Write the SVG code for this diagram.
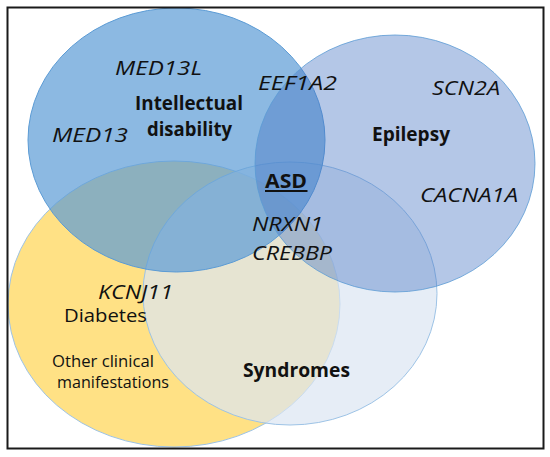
<svg xmlns="http://www.w3.org/2000/svg" width="550" height="457" viewBox="0 0 550 457">
<style>
.lbl{font-family:"Open Sans","Liberation Sans",sans-serif;fill:#111;}
.b{font-weight:bold;font-size:19px;}
.g{font-style:italic;font-size:20px;}
.r{font-size:19px;}
.s{font-size:15.5px;}
</style>
<rect x="0" y="0" width="550" height="457" fill="#ffffff"/>
<g id="other-clinical">
<ellipse cx="174" cy="304" rx="166" ry="143" fill="#ffd966" fill-opacity="0.8" stroke="#9dc3e6" stroke-width="1"/>
</g>
<g id="syndromes">
<ellipse cx="290" cy="293.5" rx="147" ry="131.5" fill="#dce6f2" fill-opacity="0.7" stroke="#9dc3e6" stroke-width="1"/>
</g>
<g id="intellectual-disability">
<ellipse cx="176.5" cy="140" rx="148.5" ry="132" fill="#5b9bd5" fill-opacity="0.7" stroke="#5b9bd5" stroke-width="1"/>
</g>
<g id="epilepsy">
<ellipse cx="395" cy="163.5" rx="140" ry="128.5" fill="#4472c4" fill-opacity="0.4" stroke="#5b9bd5" stroke-opacity="0.8" stroke-width="1"/>
</g>
<g id="labels" class="lbl">
<text class="lbl g" x="115" y="75" textLength="87" lengthAdjust="spacingAndGlyphs">MED13L</text>
<text class="lbl b" x="135" y="110" textLength="108" lengthAdjust="spacingAndGlyphs">Intellectual</text>
<text class="lbl b" x="147" y="136" textLength="85" lengthAdjust="spacingAndGlyphs">disability</text>
<text class="lbl g" x="52" y="142" textLength="76" lengthAdjust="spacingAndGlyphs">MED13</text>
<text class="lbl g" x="258" y="90" textLength="79" lengthAdjust="spacingAndGlyphs">EEF1A2</text>
<text class="lbl g" x="432" y="95" textLength="68" lengthAdjust="spacingAndGlyphs">SCN2A</text>
<text class="lbl b" x="372" y="141" textLength="78" lengthAdjust="spacingAndGlyphs">Epilepsy</text>
<text class="lbl b" x="265" y="187.5" textLength="42" lengthAdjust="spacingAndGlyphs">ASD</text>
<line x1="265" y1="191" x2="307.5" y2="191" stroke="#111" stroke-width="2"/>
<text class="lbl g" x="420" y="201.5" textLength="98" lengthAdjust="spacingAndGlyphs">CACNA1A</text>
<text class="lbl g" x="252" y="231" textLength="71" lengthAdjust="spacingAndGlyphs">NRXN1</text>
<text class="lbl g" x="252" y="260" textLength="80" lengthAdjust="spacingAndGlyphs">CREBBP</text>
<text class="lbl g" x="98" y="299" textLength="75" lengthAdjust="spacingAndGlyphs">KCNJ11</text>
<text class="lbl r" x="64" y="322" textLength="83" lengthAdjust="spacingAndGlyphs">Diabetes</text>
<text class="lbl s" x="52" y="366.5" textLength="102" lengthAdjust="spacingAndGlyphs">Other clinical</text>
<text class="lbl s" x="57" y="388" textLength="112" lengthAdjust="spacingAndGlyphs">manifestations</text>
<text class="lbl b" x="243" y="376.5" textLength="107" lengthAdjust="spacingAndGlyphs">Syndromes</text>
</g>
<rect x="7.5" y="7.5" width="536" height="441" fill="none" stroke="#1a1a1a" stroke-width="2"/>
</svg>
